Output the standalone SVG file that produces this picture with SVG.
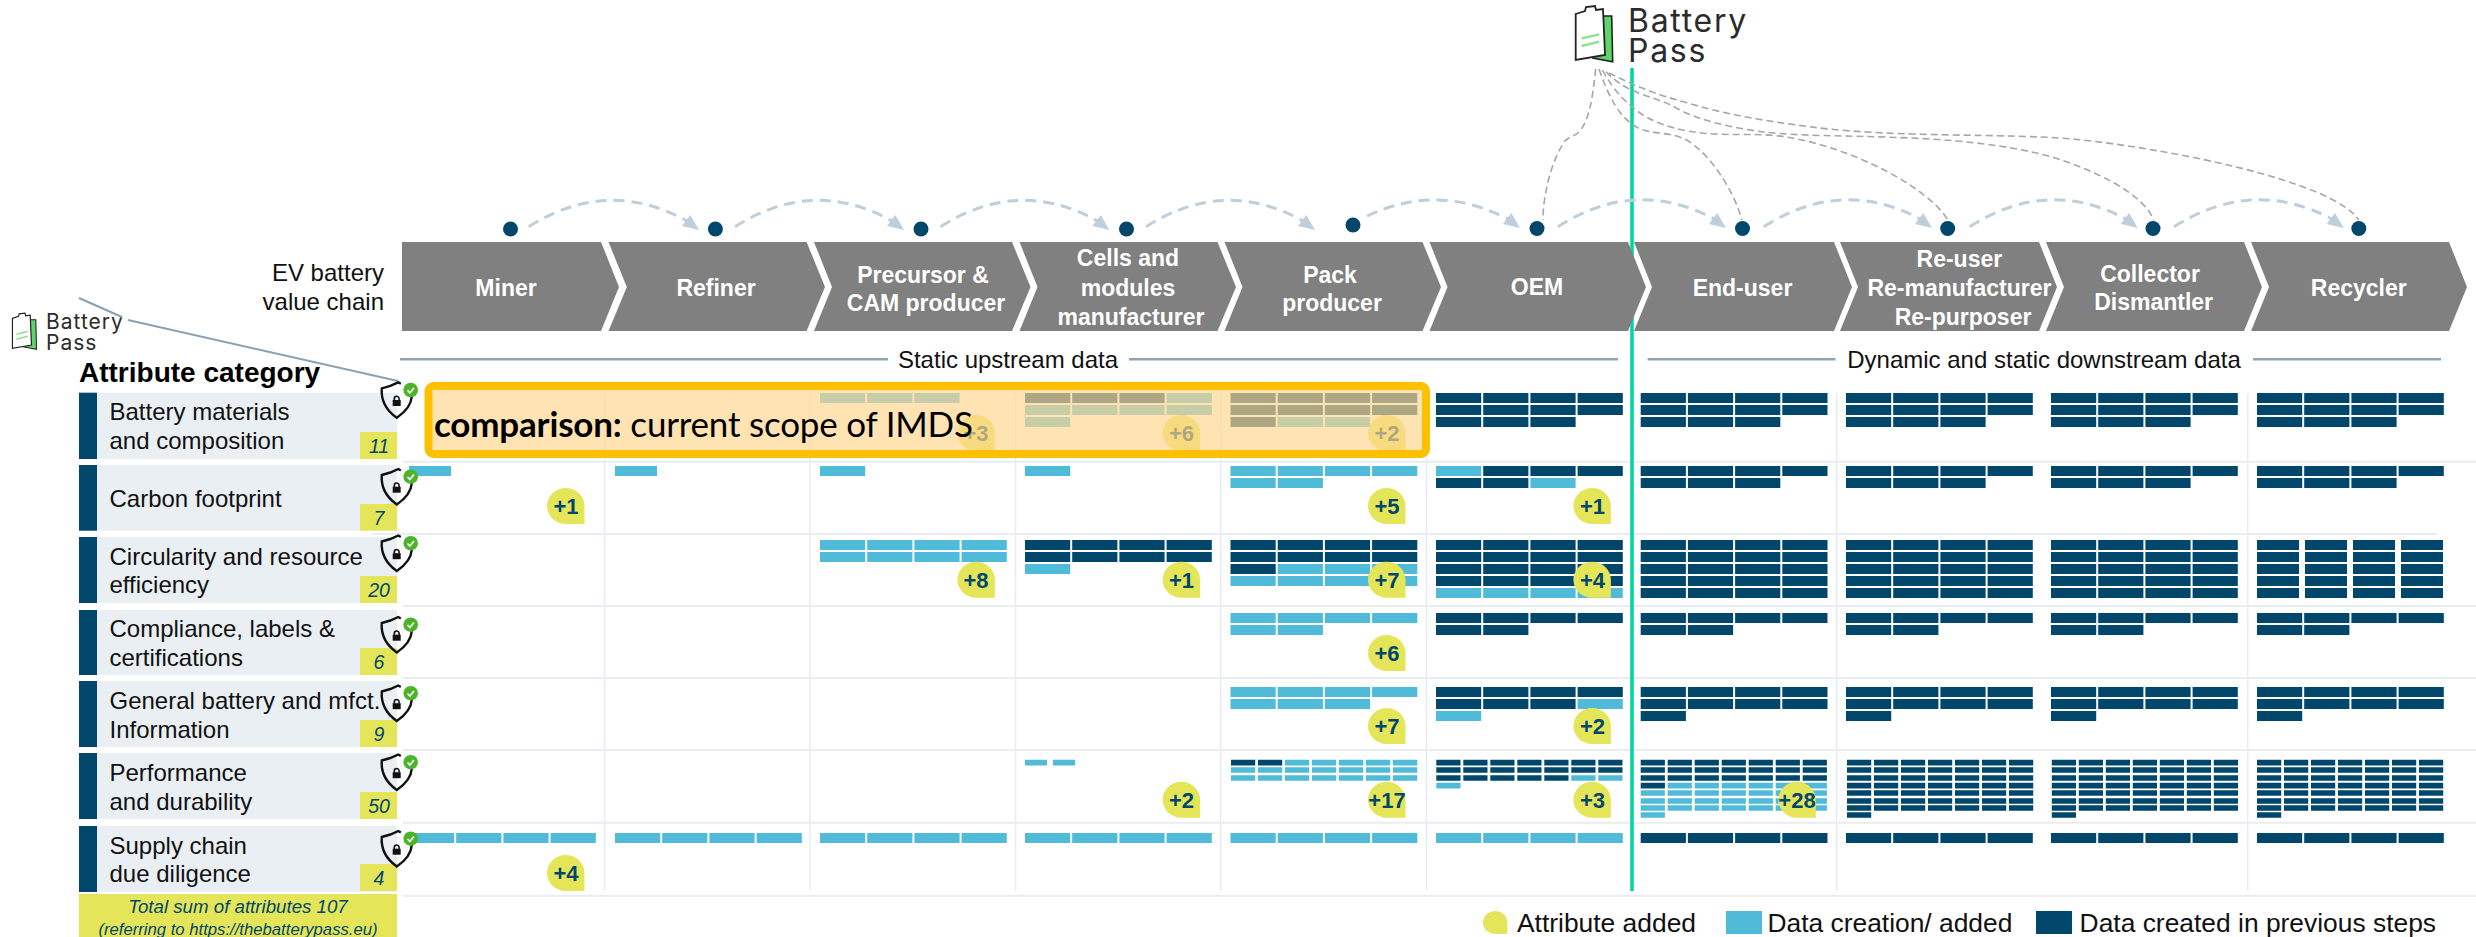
<svg xmlns="http://www.w3.org/2000/svg" width="2476" height="937" viewBox="0 0 2476 937" font-family="'Liberation Sans',Arial,sans-serif">
<style>
.grid{stroke:#E8EDF3;stroke-width:2;fill:none}
.vg{stroke:#E8ECF2;stroke-width:1.5;fill:none}
.sec{stroke:#8FA3B5;stroke-width:2.5;fill:none}
.chev{fill:#808080}
.ct{fill:#fff;font-weight:700;font-size:23px;text-anchor:middle}
.lab{font-size:24px;fill:#111}
.panel{fill:#EAEFF4}
.band{fill:#00476B}
.cnt{fill:#E5E55A}
.num{fill:#00476B;font-style:italic;font-size:19.5px;text-anchor:middle}
.bar{fill:none;stroke-width:10;stroke-dasharray:45.2 2}
.x{stroke-dasharray:42 6}
.t{stroke-width:5.6;stroke-dasharray:24.2 2.8}
.u{stroke-width:5.6;stroke-dasharray:22 6}
.d{stroke:#00476B}
.l{stroke:#50BBD8}
.bub{fill:#E5E55A}
.bt{fill:#00476B;font-weight:700;font-size:22px;text-anchor:middle}
.arc{fill:none;stroke:#BFCEDB;stroke-width:3;stroke-dasharray:11 7}
.gd{fill:none;stroke:#A6A6A6;stroke-width:1.6;stroke-dasharray:7 4}
.dot{fill:#00476B}
.ah{fill:#BFCEDB}
.logo{font-family:Inter,'Noto Sans',sans-serif;fill:#2B2B2B}
.leg{font-size:26.4px;fill:#111}
</style>
<defs>
<path id="b" d="M18.7 0C29 0 37.5 8 37.5 18V36H18.7C8.4 36 0 28 0 18C0 8 8.4 0 18.7 0Z"/>
<polygon id="ar" points="0,0 -8.7,-15 -17,-4"/>
<g id="sh">
<path d="M2.5 1.5L0 0L-8 3.5L-16.5 6C-17.5 18-12 28-1.5 35.5C8 29 13 22 13.5 14" fill="none" stroke="#111" stroke-width="2.4"/>
<rect x="-5.6" y="17.7" width="8" height="6" fill="#111"/>
<path d="M-4 18v-1.6a2.4 2.4 0 0 1 4.8 0v1.6" fill="none" stroke="#111" stroke-width="1.6"/>
<circle cx="12.4" cy="7.7" r="7.3" fill="#4CB32B"/>
<path d="M9.2 8l2.4 2.6l4-5" fill="none" stroke="#fff" stroke-width="1.6"/>
</g>
<g id="ic">
<path d="M27 11H36.7L37.7 56.7L18 53Z" fill="#5FD46A" stroke="#222" stroke-width="1.6"/>
<path d="M.7 9L10 6L11 2L20 1L21 5L28 4L30 50L.7 55Z" fill="#fff" stroke="#222" stroke-width="1.8"/>
<path d="M6.7 33.3L24.3 29.3M6.7 41L24.3 36.7" stroke="#8FE08F" stroke-width="2.4" fill="none"/>
</g>
</defs>

<g id="grid">
<path class="vg" d="M604.6 393V891M810 393V891M1015.6 393V891M1220.7 393V891M1426.4 393V891M1836.7 393V891M2247.7 393V891"/>
<path class="grid" d="M403 461.7H2476M372 534H2437M403 606H2476M403 678H2476M403 750H2476M403 822.7H2476M403 895.7H2476"/>
</g>
<path id="green-divider" d="M1632 68V891" stroke="#00D8A0" stroke-width="3.6" fill="none"/>

<g id="value-chain">
<text class="lab" x="384" y="281" text-anchor="end">EV battery</text>
<text class="lab" x="384" y="310" text-anchor="end">value chain</text>
<g id="step-miner"><path class="chev" d="M402 242H601L619 287L601 331H402Z"/><text class="ct" x="506" y="296">Miner</text></g>
<g id="step-refiner"><path class="chev" d="M608.5 242H806.6L825 287L806.6 331H608.5L626.8 287Z"/><text class="ct" x="716" y="296">Refiner</text></g>
<g id="step-precursor"><path class="chev" d="M814 242H1012L1030.5 287L1012 331H814L832 287Z"/><text class="ct" x="923" y="283">Precursor &amp;</text><text class="ct" x="926" y="311">CAM producer</text></g>
<g id="step-cells"><path class="chev" d="M1019.5 242H1217.5L1236 287L1217.5 331H1019.5L1037.5 287Z"/><text class="ct" x="1128" y="266">Cells and</text><text class="ct" x="1128" y="296">modules</text><text class="ct" x="1131" y="325">manufacturer</text></g>
<g id="step-pack"><path class="chev" d="M1224.5 242H1422.5L1441 287L1422.5 331H1224.5L1242.5 287Z"/><text class="ct" x="1330" y="283">Pack</text><text class="ct" x="1332" y="311">producer</text></g>
<g id="step-oem"><path class="chev" d="M1429.5 242H1628L1646 287L1628 331H1429.5L1447.5 287Z"/><text class="ct" x="1537" y="295">OEM</text></g>
<g id="step-enduser"><path class="chev" d="M1634 242H1834L1852 287L1834 331H1634L1652 287Z"/><text class="ct" x="1742.5" y="296">End-user</text></g>
<g id="step-reuser"><path class="chev" d="M1840 242H2039L2057 287L2039 331H1840L1858 287Z"/><text class="ct" x="1959.4" y="267">Re-user</text><text class="ct" x="1959.4" y="296">Re-manufacturer</text><text class="ct" x="1963" y="325">Re-purposer</text></g>
<g id="step-collector"><path class="chev" d="M2046 242H2244L2262 287L2244 331H2046L2064 287Z"/><text class="ct" x="2150" y="282">Collector</text><text class="ct" x="2153.6" y="310">Dismantler</text></g>
<g id="step-recycler"><path class="chev" d="M2251 242H2449L2467 287L2449 331H2251L2269 287Z"/><text class="ct" x="2358.8" y="296">Recycler</text></g>
</g>

<g id="connectors">
<path class="arc" d="M528.7 226.7Q608 177 687 221M735 226.7Q813.5 177 892 221M940.5 226.7Q1019 177 1097.5 221M1146 226.7Q1224.5 177 1303 221M1367 216Q1437.5 182.5 1508 219M1557.9 226.7Q1636 177 1714 219M1763.8 226.7Q1842 177 1920 219M1969.7 226.7Q2047.7 177 2125.8 219M2174 226.7Q2253 177 2331.7 219"/>
<use class="ah" href="#ar" x="699" y="230"/><use class="ah" href="#ar" x="904" y="230"/><use class="ah" href="#ar" x="1109.5" y="230"/><use class="ah" href="#ar" x="1315" y="230"/><use class="ah" href="#ar" x="1520" y="228"/><use class="ah" href="#ar" x="1726" y="228"/><use class="ah" href="#ar" x="1932" y="228"/><use class="ah" href="#ar" x="2137.8" y="228"/><use class="ah" href="#ar" x="2343.7" y="228"/>
<path class="gd" d="M1595.6 69C1592.5 100 1589 120 1579.8 131C1575 137 1568 136 1563.4 143C1550 165 1543.5 195 1542.8 220"/>
<path class="gd" d="M1599 69C1608 95 1618 115 1633.4 125C1648 136 1670 130 1688.3 141C1717 160 1737 200 1741.8 220"/>
<path class="gd" d="M1602.5 70C1613 90 1626 103 1640 113C1658 125 1678 130 1695 132C1727 137 1756 132 1786 137C1856 148 1931 190 1947.7 220"/>
<path class="gd" d="M1606 71.7C1628 95 1652 95 1674.5 107C1697 120 1732 128 1763.8 132C1826 140 1955 130 2052 157C2100 172 2144 195 2153.6 220"/>
<path class="gd" d="M1609 73C1633 85 1657 95 1688 103C1727 115 1772 122 1811.8 127C1896 138 2005 133 2072.6 139C2164 148 2332 180 2358.8 220"/>
</g>
<g id="dots">
<circle class="dot" cx="510.5" cy="229" r="7.5"/><circle class="dot" cx="715.4" cy="229" r="7.5"/><circle class="dot" cx="921" cy="229" r="7.5"/><circle class="dot" cx="1126.5" cy="229" r="7.5"/><circle class="dot" cx="1353" cy="225" r="7.5"/><circle class="dot" cx="1537" cy="228.5" r="7.5"/><circle class="dot" cx="1742.5" cy="228.5" r="7.5"/><circle class="dot" cx="1947.7" cy="228.5" r="7.5"/><circle class="dot" cx="2153" cy="228.5" r="7.5"/><circle class="dot" cx="2358.8" cy="228.5" r="7.5"/>
</g>

<g id="logo-main">
<use href="#ic" x="1575" y="5"/>
<text class="logo" x="1628" y="31.7" font-size="32" letter-spacing="1.7">Battery</text>
<text class="logo" x="1628" y="62.3" font-size="32" letter-spacing="1.7">Pass</text>
</g>
<g id="logo-small">
<use href="#ic" transform="translate(12 312.5) scale(.65)"/>
<text class="logo" x="46" y="329" font-size="21" letter-spacing="1">Battery</text>
<text class="logo" x="46" y="350" font-size="21" letter-spacing="1">Pass</text>
</g>
<path id="callout-line" d="M79 298L122 317M128 320L398 381" fill="none" stroke="#8CA0B3" stroke-width="2"/>

<g id="section-labels">
<path class="sec" d="M400 359.3H888M1129 359.3H1618M1647.6 359.3H1835.4M2253 359.3H2441"/>
<text x="1008" y="367.5" font-size="24" text-anchor="middle" fill="#111">Static upstream data</text>
<text x="2044" y="367.5" font-size="24" text-anchor="middle" fill="#111">Dynamic and static downstream data</text>
</g>

<text id="attr-head" x="79" y="382" font-size="28" font-weight="700" fill="#000">Attribute category</text>
<g id="cat-battery"><rect class="panel" x="79" y="392.7" width="318" height="66.3"/><rect class="band" x="79" y="392.7" width="18" height="66.3"/><text class="lab" x="109.5" y="420">Battery materials</text><text class="lab" x="109.5" y="448.5">and composition</text><rect class="cnt" x="360" y="432" width="37" height="27"/><text class="num" x="379" y="452.5">11</text></g>
<g id="cat-carbon"><rect class="panel" x="79" y="465" width="318" height="65.7"/><rect class="band" x="79" y="465" width="18" height="65.7"/><text class="lab" x="109.5" y="507">Carbon footprint</text><rect class="cnt" x="360" y="504" width="37" height="26.7"/><text class="num" x="379" y="524.5">7</text></g>
<g id="cat-circularity"><rect class="panel" x="79" y="537" width="318" height="66"/><rect class="band" x="79" y="537" width="18" height="66"/><text class="lab" x="109.5" y="565">Circularity and resource</text><text class="lab" x="109.5" y="593">efficiency</text><rect class="cnt" x="360" y="576" width="37" height="27"/><text class="num" x="379" y="596.5">20</text></g>
<g id="cat-compliance"><rect class="panel" x="79" y="610" width="318" height="65"/><rect class="band" x="79" y="610" width="18" height="65"/><text class="lab" x="109.5" y="637">Compliance, labels &amp;</text><text class="lab" x="109.5" y="666">certifications</text><rect class="cnt" x="360" y="648" width="37" height="27"/><text class="num" x="379" y="669">6</text></g>
<g id="cat-general"><rect class="panel" x="79" y="681" width="318" height="66"/><rect class="band" x="79" y="681" width="18" height="66"/><text class="lab" x="109.5" y="709">General battery and mfct.</text><text class="lab" x="109.5" y="738">Information</text><rect class="cnt" x="360" y="720" width="37" height="27"/><text class="num" x="379" y="741">9</text></g>
<g id="cat-performance"><rect class="panel" x="79" y="753" width="318" height="66"/><rect class="band" x="79" y="753" width="18" height="66"/><text class="lab" x="109.5" y="781">Performance</text><text class="lab" x="109.5" y="810">and durability</text><rect class="cnt" x="360" y="792" width="37" height="27"/><text class="num" x="379" y="813">50</text></g>
<g id="cat-supply"><rect class="panel" x="79" y="826" width="318" height="66"/><rect class="band" x="79" y="826" width="18" height="66"/><text class="lab" x="109.5" y="854">Supply chain</text><text class="lab" x="109.5" y="882">due diligence</text><rect class="cnt" x="360" y="864" width="37" height="27"/><text class="num" x="379" y="885">4</text></g>
<g id="total"><rect class="cnt" x="79" y="894" width="318" height="43"/><text x="238" y="913" font-size="18.7" font-style="italic" fill="#00476B" text-anchor="middle">Total sum of attributes 107</text><text x="238" y="935" font-size="16.7" font-style="italic" fill="#00476B" text-anchor="middle">(referring to https://thebatterypass.eu)</text></g>

<g id="data-bars">
<path class="bar l" d="M409 471h42M409 838h186.8M615 471h42M615 838h186.8M820 398h139.6M820 471h45.2M820 545h186.8M820 557h186.8M820 838h186.8M1166.6 398h45.2M1025 410h186.8M1025 422h45.2M1025 471h45.2M1025 569h45.2M1025 838h186.8M1277.7 422h92.4M1230.5 471h186.8M1230.5 483h92.4M1277.7 569h139.6M1230.5 581h186.8M1230.5 618h186.8M1230.5 630h92.4M1230.5 692h186.8M1230.5 704h139.6M1230.5 838h186.8M1436 471h45.2M1530.4 483h45.2M1436 593h186.8M1577.6 704h45.2M1436 716h45.2M1436 838h186.8"/>
<path class="bar d" d="M1025 398h139.6M1025 545h186.8M1025 557h186.8M1230.5 398h186.8M1230.5 410h186.8M1230.5 422h45.2M1230.5 545h186.8M1230.5 557h186.8M1230.5 569h45.2M1436 398h186.8M1436 410h186.8M1436 422h139.6M1483.2 471h139.6M1436 483h92.4M1436 545h186.8M1436 557h186.8M1436 569h186.8M1436 581h186.8M1436 618h186.8M1436 630h92.4M1436 692h186.8M1436 704h139.6"/>
<path class="bar d" d="M1640.7 398h186.8M1640.7 410h186.8M1640.7 422h139.6M1640.7 471h186.8M1640.7 483h139.6M1640.7 545h186.8M1640.7 557h186.8M1640.7 569h186.8M1640.7 581h186.8M1640.7 593h186.8M1640.7 618h186.8M1640.7 630h92.4M1640.7 692h186.8M1640.7 704h186.8M1640.7 716h45.2M1640.7 838h186.8M1846 398h186.8M1846 410h186.8M1846 422h139.6M1846 471h186.8M1846 483h139.6M1846 545h186.8M1846 557h186.8M1846 569h186.8M1846 581h186.8M1846 593h186.8M1846 618h186.8M1846 630h92.4M1846 692h186.8M1846 704h186.8M1846 716h45.2M1846 838h186.8M2051 398h186.8M2051 410h186.8M2051 422h139.6M2051 471h186.8M2051 483h139.6M2051 545h186.8M2051 557h186.8M2051 569h186.8M2051 581h186.8M2051 593h186.8M2051 618h186.8M2051 630h92.4M2051 692h186.8M2051 704h186.8M2051 716h45.2M2051 838h186.8M2257 398h186.8M2257 410h186.8M2257 422h139.6M2257 471h186.8M2257 483h139.6M2257 618h186.8M2257 630h92.4M2257 692h186.8M2257 704h186.8M2257 716h45.2M2257 838h186.8"/>
<path class="bar d x" d="M2257 545h186M2257 557h186M2257 569h186M2257 581h186M2257 593h186"/>
<path class="bar u l" d="M1025 762.6h50"/>
<path class="bar t l" d="M1285 762.6h132.2M1231 770h186.2M1231 778h186.2M1571.3 778h51.2M1436.3 785.6h24.2M1667.7 785.6h159.2M1640.7 793h186.2M1640.7 801h186.2M1640.7 808h186.2M1640.7 815h24.2"/>
<path class="bar t d" d="M1231 762.6h51.2M1436.3 762.6h186.2M1436.3 770h186.2M1436.3 778h132.2M1640.7 762.6h186.2M1640.7 770h186.2M1640.7 778h186.2M1640.7 785.6h24.2M1847 762.6h186.2M1847 770h186.2M1847 778h186.2M1847 785.6h186.2M1847 793h186.2M1847 801h186.2M1847 808h186.2M1847 815h24.2M2051.8 762.6h186.2M2051.8 770h186.2M2051.8 778h186.2M2051.8 785.6h186.2M2051.8 793h186.2M2051.8 801h186.2M2051.8 808h186.2M2051.8 815h24.2M2257 762.6h186.2M2257 770h186.2M2257 778h186.2M2257 785.6h186.2M2257 793h186.2M2257 801h186.2M2257 808h186.2M2257 815h24.2"/>
</g>

<g id="shields">
<use href="#sh" x="398.3" y="382.3"/><use href="#sh" x="398.3" y="469"/><use href="#sh" x="398.3" y="535.5"/><use href="#sh" x="398.3" y="617"/><use href="#sh" x="398.3" y="685.5"/><use href="#sh" x="398.3" y="754.5"/><use href="#sh" x="398.3" y="831"/>
</g>

<g id="added-badges">
<use class="bub" href="#b" x="957.4" y="415"/><text class="bt" x="976" y="441">+3</text>
<use class="bub" href="#b" x="1162.6" y="415"/><text class="bt" x="1181.5" y="441">+6</text>
<use class="bub" href="#b" x="1368" y="415"/><text class="bt" x="1387" y="441">+2</text>
<use class="bub" href="#b" x="547" y="488"/><text class="bt" x="566" y="514">+1</text>
<use class="bub" href="#b" x="1368" y="488"/><text class="bt" x="1387" y="514">+5</text>
<use class="bub" href="#b" x="1573.4" y="488"/><text class="bt" x="1592.5" y="514">+1</text>
<use class="bub" href="#b" x="957.4" y="561.7"/><text class="bt" x="976" y="587.7">+8</text>
<use class="bub" href="#b" x="1162.6" y="561.7"/><text class="bt" x="1181.5" y="587.7">+1</text>
<use class="bub" href="#b" x="1368" y="561.7"/><text class="bt" x="1387" y="587.7">+7</text>
<use class="bub" href="#b" x="1573.4" y="561.7"/><text class="bt" x="1592.5" y="587.7">+4</text>
<use class="bub" href="#b" x="1368" y="635"/><text class="bt" x="1387" y="661">+6</text>
<use class="bub" href="#b" x="1368" y="708"/><text class="bt" x="1387" y="734">+7</text>
<use class="bub" href="#b" x="1573.4" y="708"/><text class="bt" x="1592.5" y="734">+2</text>
<use class="bub" href="#b" x="1162.6" y="781.7"/><text class="bt" x="1181.5" y="807.7">+2</text>
<use class="bub" href="#b" x="1368" y="781.7"/><text class="bt" x="1387" y="807.7">+17</text>
<use class="bub" href="#b" x="1573.4" y="781.7"/><text class="bt" x="1592.5" y="807.7">+3</text>
<use class="bub" href="#b" x="1778.3" y="781.7"/><text class="bt" x="1797" y="807.7">+28</text>
<use class="bub" href="#b" x="547" y="855"/><text class="bt" x="566" y="881">+4</text>
</g>

<g id="comparison">
<rect x="428.5" y="386" width="997.5" height="68" rx="5" fill="#FFD58F" fill-opacity=".68" stroke="#FFC000" stroke-width="8"/>
<text x="434" y="437" font-size="35" letter-spacing="-.2" font-family="Lato,'Open Sans',sans-serif" fill="#000"><tspan font-weight="700">comparison:</tspan> current scope of IMDS</text>
</g>

<g id="legend">
<use class="bub" href="#b" transform="translate(1483 911) scale(.65 .64)"/>
<text class="leg" x="1517" y="931.7">Attribute added</text>
<rect x="1726" y="911" width="36" height="23" fill="#50BBD8"/>
<text class="leg" x="1767.4" y="931.7">Data creation/ added</text>
<rect x="2036" y="911" width="36" height="23" fill="#00476B"/>
<text class="leg" x="2079.6" y="931.7">Data created in previous steps</text>
</g>
</svg>
